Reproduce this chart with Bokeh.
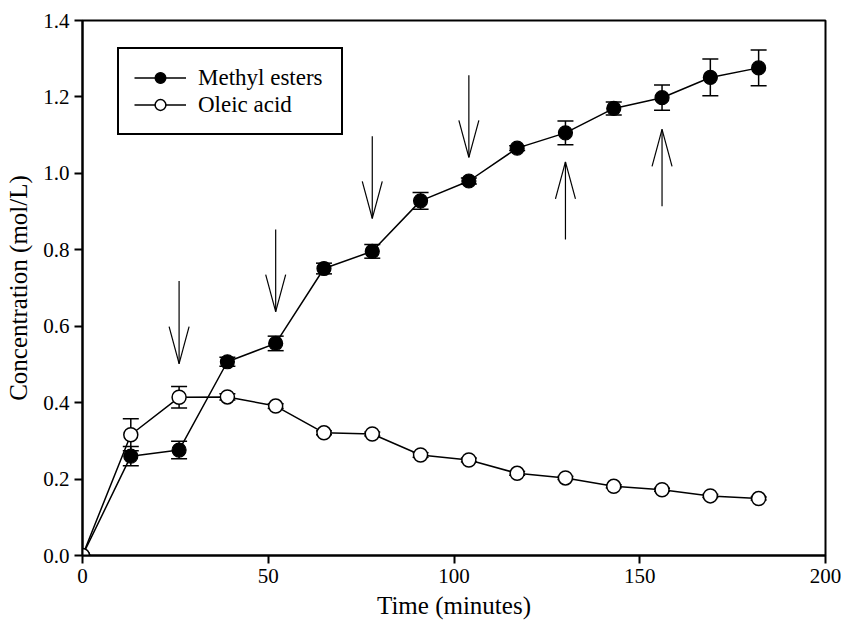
from bokeh.plotting import figure
from bokeh.models import ColumnDataSource, Whisker, TeeHead, Range1d, Legend, CustomJSTickFormatter
from bokeh.embed import file_html
from bokeh.resources import INLINE

# ---- data ----
time_min = [0, 13, 26, 39, 52, 65, 78, 91, 104, 117, 130, 143, 156, 169, 182]
methyl_esters = [0, 0.26, 0.276, 0.507, 0.555, 0.751, 0.796, 0.928, 0.98, 1.066, 1.106, 1.17, 1.198, 1.251, 1.276]
methyl_err = [0, 0.025, 0.023, 0.012, 0.019, 0.014, 0.018, 0.022, 0.008, 0.006, 0.031, 0.017, 0.033, 0.048, 0.047]
oleic_acid = [0, 0.316, 0.414, 0.415, 0.391, 0.321, 0.318, 0.263, 0.25, 0.215, 0.203, 0.181, 0.172, 0.156, 0.149]
oleic_err = [0, 0.042, 0.028, 0.008, 0.006, 0.005, 0.005, 0.006, 0.005, 0.005, 0.004, 0.004, 0.004, 0.004, 0.004]

# annotation arrows (time, start concentration, tip concentration)
arrow_t = [26, 52, 78, 104, 130, 156]
arrow_from = [0.718, 0.853, 1.097, 1.257, 0.827, 0.914]
arrow_to = [0.502, 0.638, 0.882, 1.042, 1.030, 1.115]

x_ticks = [0, 50, 100, 150, 200]
y_ticks = [0.0, 0.2, 0.4, 0.6, 0.8, 1.0, 1.2, 1.4]

FONT = "Liberation Serif"
FW, FH = 743, 535
X0, X1, Y0, Y1 = 0, 200, 0, 1.4

p = figure(frame_width=FW, frame_height=FH, x_range=Range1d(X0, X1), y_range=Range1d(Y0, Y1),
           output_backend="svg", toolbar_location=None,
           min_border_left=82, min_border_right=16, min_border_top=20, min_border_bottom=69)
p.grid.visible = False
p.outline_line_color = "black"
p.outline_line_width = 2
p.background_fill_color = "white"
p.border_fill_color = "white"

for ax in (p.xaxis[0], p.yaxis[0]):
    ax.axis_line_width = 2
    ax.major_tick_line_width = 2
    ax.major_tick_out = 8
    ax.major_tick_in = 0
    ax.minor_tick_line_color = None
    ax.major_label_text_font = FONT
    ax.major_label_text_font_size = "21px"
    ax.major_label_text_color = "black"
    ax.axis_label_text_font = FONT
    ax.axis_label_text_font_size = "25px"
    ax.axis_label_text_font_style = "normal"
    ax.axis_label_text_color = "black"
    ax.major_label_standoff = 5

p.xaxis.ticker = x_ticks
p.yaxis.ticker = y_ticks
p.yaxis.formatter = CustomJSTickFormatter(code="return tick.toFixed(1);")
p.xaxis.axis_label = "Time (minutes)"
p.yaxis.axis_label = "Concentration (mol/L)"
p.xaxis.axis_label_standoff = 6
p.yaxis.axis_label_standoff = 8

me_src = ColumnDataSource(dict(t=time_min, y=methyl_esters,
                               lo=[v - e for v, e in zip(methyl_esters, methyl_err)],
                               hi=[v + e for v, e in zip(methyl_esters, methyl_err)]))
oa_src = ColumnDataSource(dict(t=time_min, y=oleic_acid,
                               lo=[v - e for v, e in zip(oleic_acid, oleic_err)],
                               hi=[v + e for v, e in zip(oleic_acid, oleic_err)]))

for src in (me_src, oa_src):
    w = Whisker(source=src, base="t", upper="hi", lower="lo", dimension="height",
                line_width=1.5, line_color="black", level="underlay",
                upper_head=TeeHead(size=16, line_width=1.5, line_color="black"),
                lower_head=TeeHead(size=16, line_width=1.5, line_color="black"))
    p.add_layout(w)

l1 = p.line("t", "y", source=me_src, line_color="black", line_width=1.5)
s1 = p.scatter("t", "y", source=me_src, size=14, fill_color="black", line_color="black", line_width=1.2)
l2 = p.line("t", "y", source=oa_src, line_color="black", line_width=1.5)
s2 = p.scatter("t", "y", source=oa_src, size=14, fill_color="white", line_color="black", line_width=1.5)

# arrows
head_half_w = 10 * (X1 - X0) / FW
head_len = 37 * (Y1 - Y0) / FH
p.segment(x0=arrow_t, y0=arrow_from, x1=arrow_t, y1=arrow_to, line_color="black", line_width=1.2)
wy = [to + (head_len if fr > to else -head_len) for fr, to in zip(arrow_from, arrow_to)]
p.segment(x0=[t - head_half_w for t in arrow_t], y0=wy, x1=arrow_t, y1=arrow_to, line_color="black", line_width=1.2)
p.segment(x0=[t + head_half_w for t in arrow_t], y0=wy, x1=arrow_t, y1=arrow_to, line_color="black", line_width=1.2)

legend = Legend(items=[("Methyl esters", [l1, s1]), ("Oleic acid", [l2, s2])],
                location=(35, 420), margin=0, padding=15, spacing=0,
                glyph_width=52, glyph_height=27, label_height=27, label_width=128,
                label_standoff=12,
                label_text_font=FONT, label_text_font_size="23px", label_text_color="black",
                border_line_color="black", border_line_alpha=1.0, border_line_width=2,
                background_fill_alpha=1)
p.add_layout(legend)

open("out.html", "w").write(file_html(p, INLINE))
